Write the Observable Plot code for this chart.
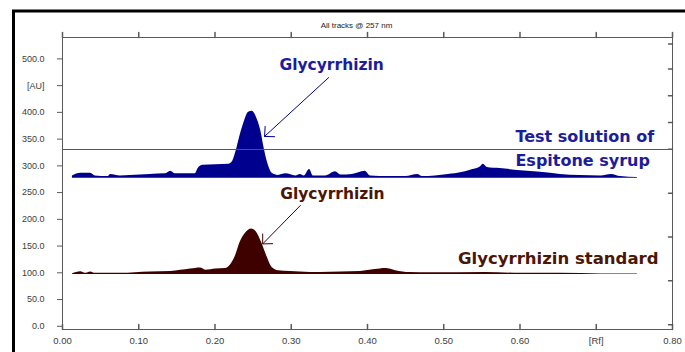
<!DOCTYPE html>
<html><head><meta charset="utf-8">
<script src="https://cdn.jsdelivr.net/npm/d3@7"></script>
<script src="https://cdn.jsdelivr.net/npm/@observablehq/plot@0.6"></script>
<style>html,body{margin:0;padding:0;background:#fff;} svg{display:block}</style>
</head><body><div id="chart"></div>
<script>
const title = "All tracks @ 257 nm";
const xTicks = [0, 0.1, 0.2, 0.3, 0.4, 0.5, 0.6, 0.7, 0.8];
const xTickLabels = ["0.00","0.10","0.20","0.30","0.40","0.50","0.60","[Rf]","0.80"];
const yTicks = [0, 50, 100, 150, 200, 250, 300, 350, 400, 450, 500];
const yTickLabels = ["0.0","50.0","100.0","150.0","200.0","250.0","300.0","350.0","400.0","[AU]","500.0"];
const rightTicks = [3, 85, 167, 249, 331, 381, 431, 481, 528];

// Track 1: test solution (Espitone syrup)
const sampleBaseline = 277;
const sampleRf = [0.013,0.024,0.037,0.043,0.060,0.063,0.076,0.089,0.115,0.135,0.142,0.148,0.174,0.178,0.184,0.201,0.218,0.223,0.228,0.233,0.239,0.244,0.249,0.254,0.260,0.265,0.270,0.275,0.283,0.293,0.306,0.312,0.317,0.324,0.329,0.345,0.358,0.365,0.380,0.397,0.404,0.428,0.450,0.466,0.472,0.489,0.506,0.515,0.522,0.535,0.548,0.552,0.557,0.574,0.601,0.627,0.653,0.679,0.706,0.720,0.732,0.754];
const sampleAU = [281,286,286,281,280,284,281,282,284,285,290,285,285,295,301,302,303,308,329,357,385,400,402,392,366,329,301,286,282,285,281,284,281,293,281,281,289,283,284,290,281,280,280,284,280,281,284,285,287,292,298,303,297,295,291,288,284,282,281,284,280,278];

// Track 2: glycyrrhizin standard
const standardBaseline = 97;
const standardRf = [0.013,0.024,0.030,0.037,0.043,0.076,0.115,0.142,0.168,0.181,0.188,0.201,0.214,0.220,0.227,0.233,0.240,0.248,0.254,0.261,0.268,0.275,0.283,0.299,0.312,0.338,0.365,0.391,0.410,0.424,0.437,0.456,0.483,0.555,0.601,0.653,0.706,0.754];
const standardAU = [98,102,99,101.5,99,99,101.5,102.5,107,109,105,107,108,114,132,157,174,182,177,157,131,110,104,102.5,101.5,100.5,101.5,102.5,106,108,104,100.5,100,100.5,99,99,98,98];

const trackSeparator = 330.6;

// Annotations
const peakLabel = "Glycyrrhizin";
const sampleLabelLines = ["Test solution of", "Espitone syrup"];
const standardLabel = "Glycyrrhizin standard";

const samplePeakLabelPos = [0.353, 488];
const sampleLabelRf = [0.594, 0.594];
const sampleLabelAU = [354, 310];
const standardPeakLabelPos = [0.354, 248];
const standardLabelPos = [0.7816, 126];
const sampleArrow = [0.349, 465, 0.265, 355];
const standardArrow = [0.312, 226, 0.2625, 154];

const blue = "#00008f";
const brown = "#3f0000";
const blueText = "#1c1c9c";
const brownText = "#4a1606";

const sample = sampleRf.map((x, i) => ({x, y: sampleAU[i]}));
const standard = standardRf.map((x, i) => ({x, y: standardAU[i]}));

const tickShape = {draw(ctx, l) { ctx.moveTo(0, 0); ctx.lineTo(0, -l); }};
const yMin = -6, yMax = 540;
const axisColor = "#5a5a5a";

const plot = Plot.plot({
  width: 685,
  height: 352,
  marginLeft: 62,
  marginRight: 13,
  marginTop: 37,
  marginBottom: 23,
  style: {fontFamily: "Liberation Sans, Arial, sans-serif", background: "#fff"},
  x: {domain: [0, 0.8]},
  y: {domain: [yMin, yMax]},
  marks: [
    Plot.areaY(sample, {x: "x", y1: sampleBaseline, y2: "y", fill: blue, curve: "monotone-x"}),
    Plot.areaY(standard, {x: "x", y1: standardBaseline, y2: "y", fill: brown, curve: "monotone-x"}),
    Plot.ruleY([trackSeparator], {stroke: "#555", strokeWidth: 1}),
    Plot.frame({stroke: axisColor}),
    Plot.axisY(yTicks, {tickSize: 5, tickPadding: 13, fontSize: 9, color: "#3c3c3c", stroke: axisColor,
      tickFormat: d => yTickLabels[yTicks.indexOf(d)], label: null}),
    Plot.axisX(xTicks, {tickSize: 0, tickPadding: 8, fontSize: 9.5, color: "#3c3c3c",
      tickFormat: d => xTickLabels[xTicks.indexOf(d)], label: null}),
    Plot.vector(xTicks, {x: d => d, y: yMin, length: 5, shape: tickShape, anchor: "start", stroke: axisColor}),
    Plot.vector(xTicks, {x: d => d, y: yMax, length: 5, shape: tickShape, anchor: "start", stroke: axisColor}),
    Plot.vector(rightTicks, {x: 0.8, y: d => d, length: 4, rotate: -90, shape: tickShape, anchor: "start", stroke: axisColor}),
    Plot.text([title], {frameAnchor: "top", dy: -15, dx: -11, fontSize: 8, fill: "#222", style: "letter-spacing:-0.3px"}),
    Plot.text([peakLabel], {x: samplePeakLabelPos[0], y: samplePeakLabelPos[1], fontSize: 15.5, fontWeight: "bold", fontFamily: "DejaVu Sans", fill: blueText}),
    Plot.text(sampleLabelLines, {x: (d, i) => sampleLabelRf[i], y: (d, i) => sampleLabelAU[i], textAnchor: "start", fontSize: 16, fontWeight: "bold", fontFamily: "DejaVu Sans", fill: blueText}),
    Plot.text([peakLabel], {x: standardPeakLabelPos[0], y: standardPeakLabelPos[1], fontSize: 15.5, fontWeight: "bold", fontFamily: "DejaVu Sans", fill: brownText}),
    Plot.text([standardLabel], {x: standardLabelPos[0], y: standardLabelPos[1], textAnchor: "end", fontSize: 16.5, fontWeight: "bold", fontFamily: "DejaVu Sans", fill: brownText}),
    Plot.arrow([sampleArrow], {x1: d => d[0], y1: d => d[1], x2: d => d[2], y2: d => d[3], stroke: blue, strokeWidth: 1, headLength: 15, headAngle: 88}),
    Plot.arrow([standardArrow], {x1: d => d[0], y1: d => d[1], x2: d => d[2], y2: d => d[3], stroke: brown, strokeWidth: 1, headLength: 15, headAngle: 88})
  ]
});

document.getElementById("chart").appendChild(plot);
// outer black border (top and left)
d3.select(plot).append("path").attr("d", "M13.5,352V11H685").attr("fill", "none").attr("stroke", "#000").attr("stroke-width", 3);
</script>
</body></html>
